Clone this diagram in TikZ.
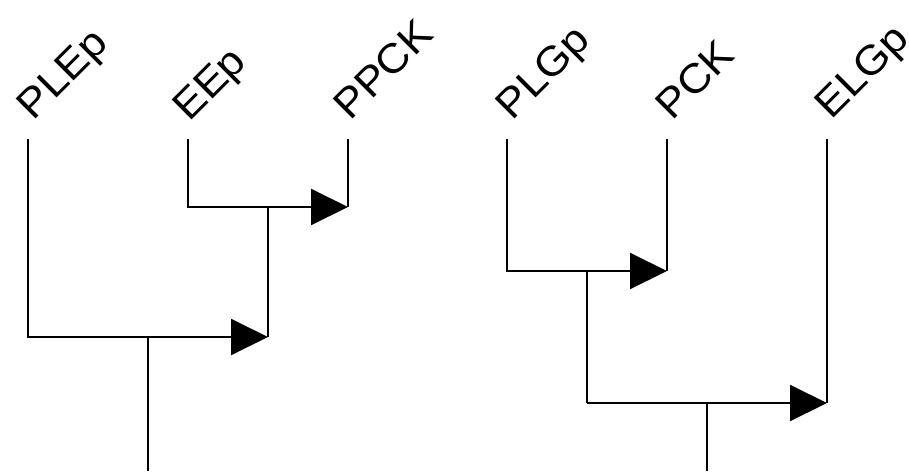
\documentclass[tikz,border=0pt]{standalone}
\usepackage{fontspec}
\setmainfont{Liberation Sans}
\usetikzlibrary{arrows.meta}
\begin{document}
\begin{tikzpicture}[x=1pt,y=-1pt,
  edge/.style={line width=2pt, line cap=butt},
  arr/.style={edge, -{Triangle[length=37pt,width=36pt]}},
  lab/.style={rotate=45, xscale=1.08, anchor=base west, inner sep=0pt, font=\fontsize{41}{41}\selectfont}]
\useasboundingbox (0,0) rectangle (909,471);
% ---------- left tree ----------
\node[lab] (PLEp) at (33,122) {PLEp};
\node[lab] (EEp)  at (189,123) {EEp};
\node[lab] (PPCK) at (350,122) {PPCK};
\coordinate (tPLEp) at (28,139);
\coordinate (tEEp)  at (188,139);
\coordinate (tPPCK) at (348,139);
\coordinate (eA) at (348,207);
\coordinate (jA) at (268,207);
\coordinate (jB) at (268,337);
\coordinate (jC) at (148,337);
\coordinate (rootL) at (148,471);
\draw[edge] (tPPCK) -- (eA);
\draw[arr] (tEEp) |- (eA);
\draw[edge] (jA) -- (jB);
\draw[arr] (tPLEp) |- (jB);
\draw[edge] (jC) -- (rootL);
% ---------- right tree ----------
\node[lab] (PLGp) at (512,122) {PLGp};
\node[lab] (PCK)  at (672,122) {PCK};
\node[lab] (ELGp) at (831,121) {ELGp};
\coordinate (tPLGp) at (507,139);
\coordinate (tPCK)  at (667,139);
\coordinate (tELGp) at (827,139);
\coordinate (eB) at (667,271);
\coordinate (jD) at (587,271);
\coordinate (jE) at (587,403);
\coordinate (eC) at (827,403);
\coordinate (jF) at (707,403);
\coordinate (rootR) at (707,471);
\draw[edge] (tPCK) -- (eB);
\draw[arr] (tPLGp) |- (eB);
\draw[edge] (jD) -- (jE);
\draw[edge] (tELGp) -- (eC);
\draw[arr] (jE) -- (eC);
\draw[edge] (jF) -- (rootR);
\end{tikzpicture}
\end{document}
